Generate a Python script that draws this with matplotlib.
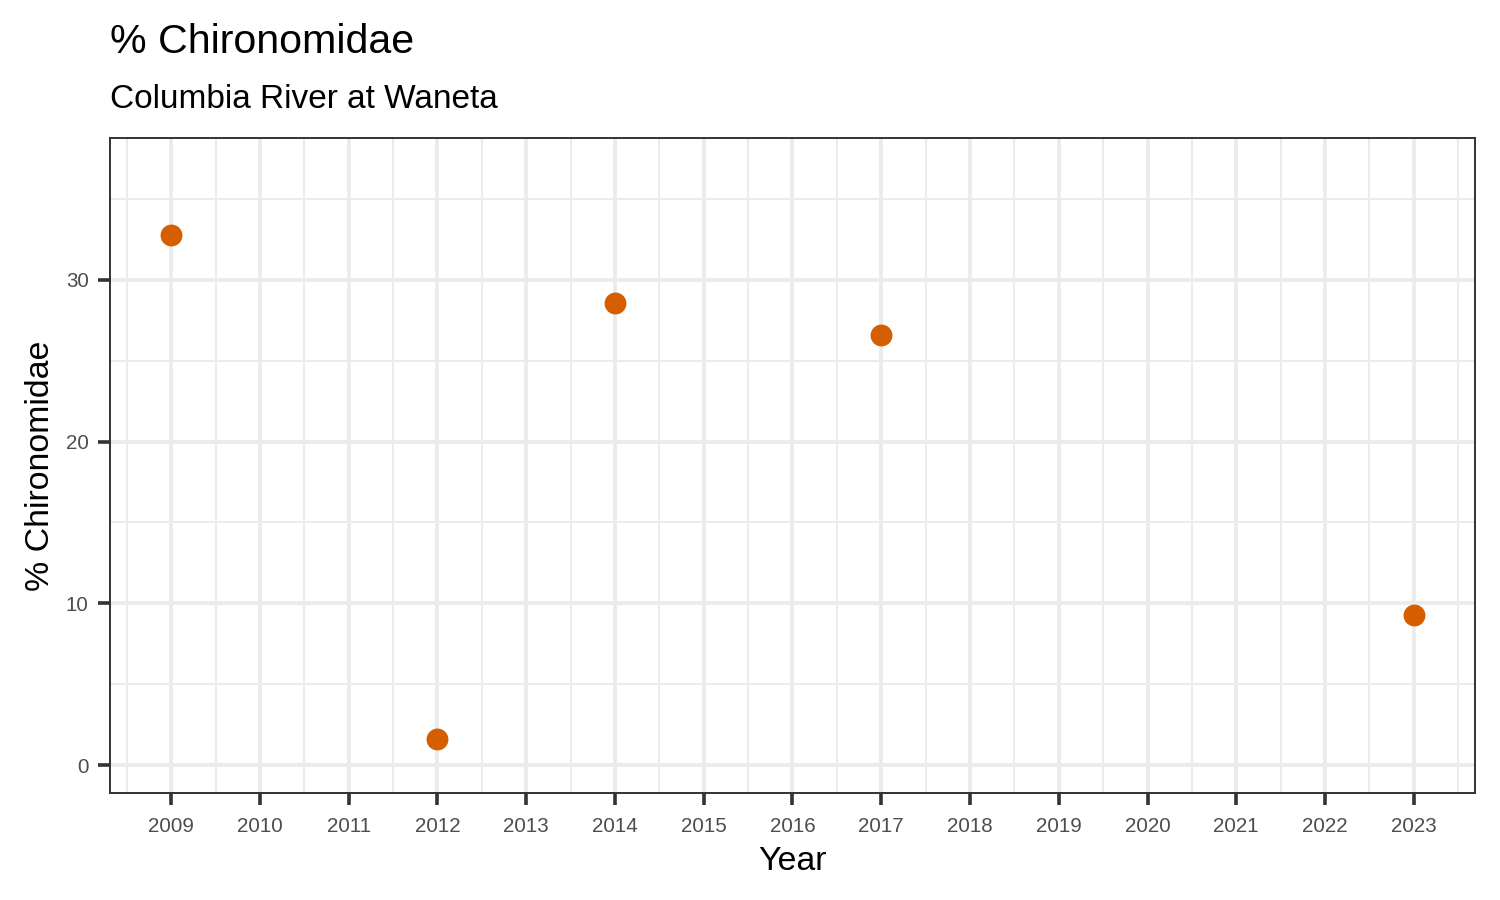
import matplotlib
matplotlib.use("Agg")
import matplotlib.pyplot as plt
import numpy as np

# data
years = [2009, 2012, 2014, 2017, 2023]
pct_chiro = [32.8, 1.6, 28.6, 26.6, 9.3]
x_ticks = list(range(2009, 2024))
y_ticks = [0, 10, 20, 30]

plt.rcParams["font.family"] = ["Liberation Sans", "DejaVu Sans"]

fig = plt.figure(figsize=(7.5, 4.5), dpi=200)
ax = fig.add_axes([110 / 1500, 1 - 793 / 900, 1365 / 1500, 655 / 900])

ax.set_xlim(2008.31, 2023.69)
ax.set_ylim(-1.73, 38.78)

ax.set_xticks(x_ticks)
ax.set_xticks(np.arange(2008.5, 2024, 1.0), minor=True)
ax.set_yticks(y_ticks)
ax.set_yticks([5, 15, 25, 35], minor=True)

ax.grid(which="major", color="#EBEBEB", linewidth=1.4)
ax.grid(which="minor", color="#EBEBEB", linewidth=0.7)
ax.set_axisbelow(True)

ax.scatter(years, pct_chiro, s=62, color="#D55E00", zorder=3, linewidths=0)

for s in ax.spines.values():
    s.set_color("#333333")
    s.set_linewidth(0.7)

ax.tick_params(which="major", length=4.2, width=1.3, color="#333333",
               labelsize=7.4, labelcolor="#4D4D4D", pad=3.5)
ax.tick_params(axis="x", which="major", pad=4.5)
ax.tick_params(which="minor", length=0)

ax.set_xlabel("Year", fontsize=12.2, labelpad=3.5)
ax.set_ylabel("% Chironomidae", fontsize=12.2, labelpad=3.5)

fig.text(110 / 1500, 1 - 53 / 900, "% Chironomidae", fontsize=14.8,
         ha="left", va="baseline")
fig.text(110 / 1500, 1 - 108 / 900, "Columbia River at Waneta", fontsize=12,
         ha="left", va="baseline")

fig.savefig("out.png", dpi=200)
